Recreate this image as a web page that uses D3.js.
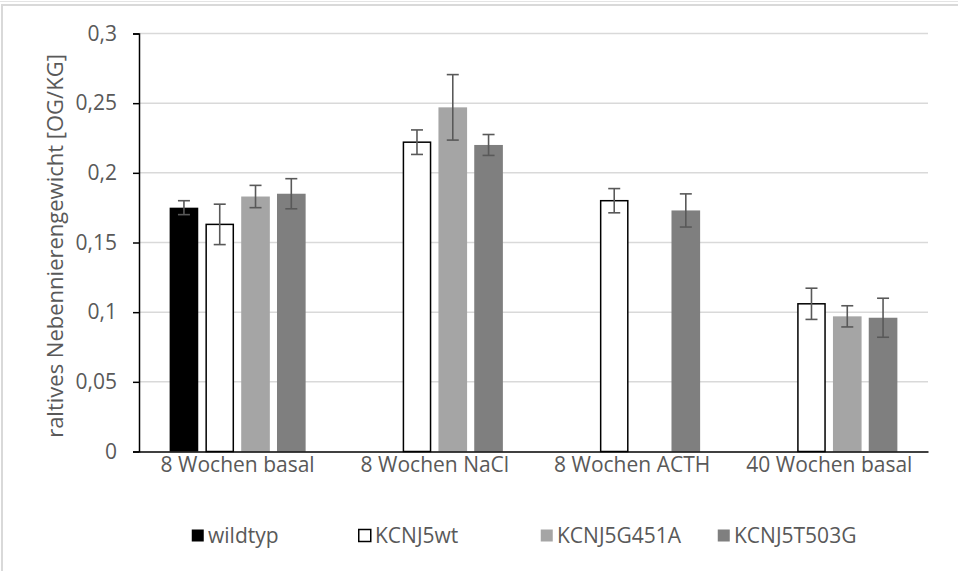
<!DOCTYPE html>
<html><head><meta charset="utf-8">
<script src="https://cdn.jsdelivr.net/npm/d3@7"></script>
<style>
html,body{margin:0;padding:0;background:#fff;}
svg{display:block;}
text{font-family:"Open Sans","Liberation Sans",sans-serif;fill:#595959;}
</style></head>
<body>
<svg id="chart" width="958" height="571"></svg>
<script>
const categories = ["8 Wochen basal", "8 Wochen NaCl", "8 Wochen ACTH", "40 Wochen basal"];
const seriesNames = ["wildtyp", "KCNJ5wt", "KCNJ5G451A", "KCNJ5T503G"];
const wildtyp    = [0.175, null, null, null];
const KCNJ5wt    = [0.163, 0.222, 0.180, 0.106];
const KCNJ5G451A = [0.183, 0.247, null, 0.097];
const KCNJ5T503G = [0.185, 0.220, 0.173, 0.096];
const wildtypErr    = [0.005, null, null, null];
const KCNJ5wtErr    = [0.0145, 0.0088, 0.0087, 0.0112];
const KCNJ5G451AErr = [0.008, 0.0235, null, 0.0076];
const KCNJ5T503GErr = [0.0108, 0.0075, 0.0119, 0.014];
const yTicks = [0, 0.05, 0.1, 0.15, 0.2, 0.25, 0.3];
const yTitle = "raltives Nebennierengewicht [OG/KG]";

const values = [wildtyp, KCNJ5wt, KCNJ5G451A, KCNJ5T503G];
const errors = [wildtypErr, KCNJ5wtErr, KCNJ5G451AErr, KCNJ5T503GErr];
const fills = ["#000000", "#ffffff", "#a5a5a5", "#7f7f7f"];
const strokes = [null, "#000000", null, null];

const svg = d3.select("#chart");
// outer frame
svg.append("line").attr("x1",0).attr("x2",958).attr("y1",1.5).attr("y2",1.5).attr("stroke","#e4e4e4").attr("stroke-width",1);
svg.append("rect").attr("x",2).attr("y",5).attr("width",962).attr("height",570)
  .attr("fill","none").attr("stroke","#d9d9d9").attr("stroke-width",2);

const pL = 139, pR = 928, pT = 33.5, pB = 451.5;
const y = d3.scaleLinear().domain([0, 0.3]).range([pB, pT]);
const x0 = d3.scaleBand().domain(categories).range([pL, pR]).padding(0);
const fmt = d => d3.format("")(d).replace(".", ",");

// gridlines
svg.append("g").selectAll("line").data(yTicks.filter(d => d > 0)).join("line")
  .attr("x1", pL).attr("x2", pR)
  .attr("y1", d => y(d)).attr("y2", d => y(d))
  .attr("stroke", "#d9d9d9").attr("stroke-width", 1.5);

// bars
const gBars = svg.append("g");
categories.forEach((c, ci) => {
  const cx = x0(c) + x0.bandwidth() / 2;
  const x1 = d3.scaleBand().domain(seriesNames).range([cx - 68, cx + 68]).paddingInner(0.2).paddingOuter(0);
  seriesNames.forEach((s, si) => {
    const v = values[si][ci];
    if (v == null) return;
    const bx = x1(s), bw = x1.bandwidth();
    const r = gBars.append("rect")
      .attr("x", strokes[si] ? bx + 0.75 : bx).attr("width", strokes[si] ? bw - 1.5 : bw)
      .attr("y", y(v)).attr("height", y(0) - y(v))
      .attr("fill", fills[si]);
    if (strokes[si]) r.attr("stroke", strokes[si]).attr("stroke-width", 1.5);
    const e = errors[si][ci];
    if (e != null) {
      const ex = bx + bw / 2;
      const eg = gBars.append("g").attr("stroke", "#595959").attr("stroke-width", 1.6);
      eg.append("line").attr("x1", ex).attr("x2", ex).attr("y1", y(v + e)).attr("y2", y(v - e));
      eg.append("line").attr("x1", ex - 6).attr("x2", ex + 6).attr("y1", y(v + e)).attr("y2", y(v + e));
      eg.append("line").attr("x1", ex - 6).attr("x2", ex + 6).attr("y1", y(v - e)).attr("y2", y(v - e));
    }
  });
});

// y axis
const yAxis = d3.axisLeft(y).tickValues(yTicks).tickSize(6).tickPadding(16).tickFormat(fmt);
const gy = svg.append("g").attr("transform", `translate(${pL},0)`).call(yAxis);
gy.select(".domain").attr("stroke", "#000").attr("stroke-width", 1.5);
gy.selectAll(".tick line").attr("stroke", "#000").attr("stroke-width", 1.5);
gy.selectAll(".tick text").style("font-size", "21px").attr("fill", "#595959");

// x axis
const xAxis = d3.axisBottom(x0).tickSize(0).tickPadding(6);
const gx = svg.append("g").attr("transform", `translate(0,${pB})`).call(xAxis);
gx.select(".domain").attr("stroke", "#000").attr("stroke-width", 1.5);
gx.selectAll(".tick text").style("font-size", "21px").attr("fill", "#595959");

// y title
svg.append("text").attr("transform", `translate(63,246) rotate(-90)`)
  .attr("text-anchor", "middle").style("font-size", "22px").text(yTitle);

// legend
const legX = [191, 358, 540, 717];
const leg = svg.append("g");
seriesNames.forEach((s, i) => {
  const g = leg.append("g").attr("transform", `translate(${legX[i]},536)`);
  g.append("rect").attr("x", 0.75).attr("y", -6.5).attr("width", 12).attr("height", 12)
    .attr("fill", fills[i]).attr("stroke", strokes[i] || "none").attr("stroke-width", 1.5);
  g.append("text").attr("x", 17).attr("y", 0).attr("dy", "0.35em").style("font-size", "21px").text(s);
});
</script>
</body></html>
